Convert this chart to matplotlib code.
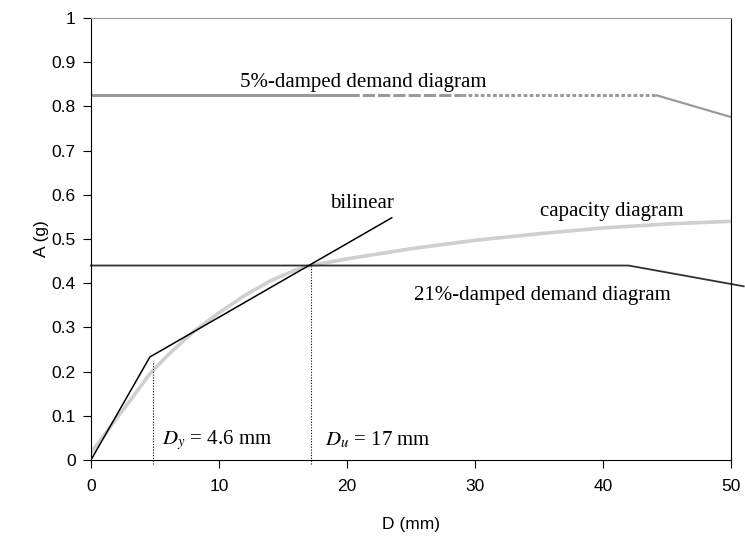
import numpy as np
import matplotlib.pyplot as plt

plt.rcParams["mathtext.fontset"] = "stix"

# 5%-damped demand (gray), 21%-damped demand (dark), capacity curve, bilinear idealisation
d5_x = [0, 20, 29, 44.2, 50]
d5_y = [0.825, 0.825, 0.825, 0.825, 0.776]
d21_x = [0, 42.0, 51]
d21_y = [0.44, 0.44, 0.393]
cap_x = [0, 1, 2, 3, 4.6, 6, 8, 10, 12, 14, 16, 17.2, 20, 25, 30, 35, 40, 45, 50]
cap_y = [0.016, 0.055, 0.094, 0.132, 0.195, 0.237, 0.29, 0.333, 0.372, 0.405, 0.43, 0.44,
         0.455, 0.478, 0.497, 0.512, 0.525, 0.534, 0.54]
bil_x = [0, 4.6, 23.5]
bil_y = [0, 0.233, 0.548]
dy, du = 4.85, 17.2
dy_top, du_top = 0.224, 0.44

fig = plt.figure(figsize=(7.45, 5.36), dpi=100)
ax = fig.add_axes([0.1221, 0.1418, 0.859, 0.8246])

ax.plot(cap_x, cap_y, color="#cfcfcf", lw=2.6, solid_capstyle="round")
ax.plot(d5_x[:2], d5_y[:2], color="#9a9a9a", lw=2.2)
ax.plot(d5_x[1:3], d5_y[1:3], color="#9a9a9a", lw=2.2, ls=(0, (4, 1)))
ax.plot(d5_x[2:4], d5_y[2:4], color="#9a9a9a", lw=2.2, ls=(0, (1.2, 0.8)))
ax.plot(d5_x[3:], d5_y[3:], color="#9a9a9a", lw=1.6)
ax.plot(d21_x, d21_y, color="#303030", lw=1.3, clip_on=False)
ax.plot(bil_x, bil_y, color="black", lw=1.1)
ax.plot([dy, dy], [-0.008, dy_top], color="black", lw=0.8, ls=(0, (1, 1.5)), clip_on=False)
ax.plot([du, du], [-0.008, du_top], color="black", lw=0.8, ls=(0, (1, 1.5)), clip_on=False)

serif = "Liberation Serif"
fs = 15
ax.text(11.65, 0.855, "5%-damped demand diagram", family=serif, fontsize=fs, va="center")
ax.text(18.7, 0.58, "bilinear", family=serif, fontsize=fs, va="center")
ax.text(35.1, 0.562, "capacity diagram", family=serif, fontsize=fs, va="center")
ax.text(25.2, 0.373, "21%-damped demand diagram", family=serif, fontsize=fs, va="center")
ax.text(5.55, 0.045, r"$D_y$ = 4.6 mm", family=serif, fontsize=fs, va="center")
ax.text(18.3, 0.045, r"$D_u$ = 17 mm", family=serif, fontsize=fs, va="center")

ax.set_xlim(0, 50)
ax.set_ylim(0, 1)
ax.set_xticks([0, 10, 20, 30, 40, 50])
ax.set_yticks(np.arange(0, 1.01, 0.1))
ax.set_yticklabels(["0", "0.1", "0.2", "0.3", "0.4", "0.5", "0.6", "0.7", "0.8", "0.9", "1"])
ax.tick_params(labelsize=12.5, length=6, color="black")
ax.tick_params(axis="x", pad=8)
ax.tick_params(axis="y", pad=5)
for lab in ax.get_xticklabels() + ax.get_yticklabels():
    lab.set_family("Liberation Sans")
ax.set_xlabel("D (mm)", family="Liberation Sans", fontsize=12.5, labelpad=16)
ax.set_ylabel("A (g)", family="Liberation Sans", fontsize=12.5, labelpad=2)
ax.spines["top"].set_color("#999999")

fig.savefig("out.png", dpi=100)
